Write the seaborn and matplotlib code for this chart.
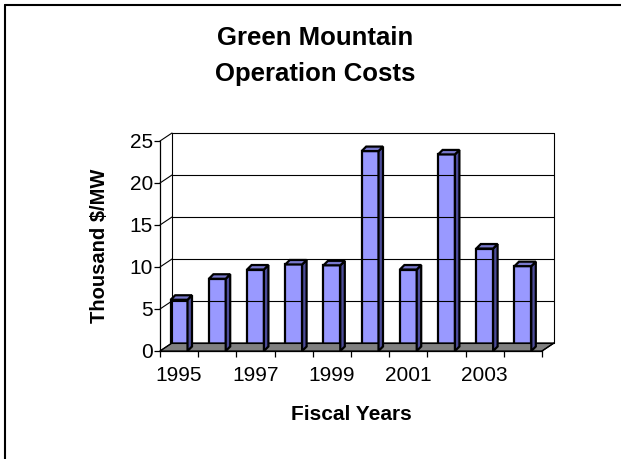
import matplotlib
matplotlib.use("Agg")
import matplotlib.pyplot as plt
import seaborn as sns
import pandas as pd
from matplotlib.transforms import IdentityTransform
from matplotlib.patches import Polygon
from matplotlib.lines import Line2D

# ---- data ----
years = ["1995", "1996", "1997", "1998", "1999", "2000", "2001", "2002", "2003", "2004"]
costs = [6.1, 8.6, 9.7, 10.3, 10.2, 23.8, 9.7, 23.4, 12.2, 10.1]
y_ticks = [0, 5, 10, 15, 20, 25]
x_labels_shown = ["1995", "1997", "1999", "2001", "2003"]

title = "Green Mountain\nOperation Costs"
xlabel = "Fiscal Years"
ylabel = "Thousand $/MW"

df = pd.DataFrame({"year": years, "cost": costs})

sns.set_style("white")
plt.rcParams["font.family"] = ["Liberation Sans", "DejaVu Sans"]
plt.rcParams["text.color"] = "black"
plt.rcParams["axes.labelcolor"] = "black"
plt.rcParams["xtick.color"] = "black"
plt.rcParams["ytick.color"] = "black"

DPI = 100
W_PX, H_PX = 621, 459
fig = plt.figure(figsize=(W_PX / DPI, H_PX / DPI), dpi=DPI)
fig.patch.set_facecolor("white")

# front plane of the 3D plot (pixels: x 160..542, y 141..351 from top)
L, R, T, B = 160, 542, 141, 351
ax = fig.add_axes([L / W_PX, 1 - B / H_PX, (R - L) / W_PX, (B - T) / H_PX])
ax.set_facecolor("none")

FRONT = "#9999FF"
SIDE = "#4C4C99"
TOP = "#7878CC"
LW = 1.6

sns.barplot(data=df, x="year", y="cost", color=FRONT, saturation=1,
            width=0.44, edgecolor="black", linewidth=LW, ax=ax, zorder=5)

ax.set_xlim(-0.5, len(years) - 0.5)
ax.set_ylim(0, 25)

# spines
for s in ["top", "right"]:
    ax.spines[s].set_visible(False)
ax.spines["left"].set_linewidth(0.9)
ax.spines["left"].set_color("black")
ax.spines["bottom"].set_linewidth(0.9)
ax.spines["bottom"].set_color("black")
ax.spines["bottom"].set_zorder(4)

# ticks
ax.set_yticks(y_ticks)
ax.set_yticklabels([str(v) for v in y_ticks], fontsize=15)
ax.tick_params(axis="y", direction="out", length=4, width=0.9, pad=1, left=True)

shown_pos = [years.index(y) for y in x_labels_shown]
ax.set_xticks(shown_pos)
ax.set_xticklabels(x_labels_shown, fontsize=15)
ax.tick_params(axis="x", which="major", length=0, pad=11)
ax.set_xticks([i - 0.5 for i in range(len(years) + 1)], minor=True)
ax.tick_params(axis="x", which="minor", direction="out", length=4, width=0.9, bottom=True)

ax.set_xlabel(xlabel, fontsize=15, fontweight="bold", labelpad=14)
ax.set_ylabel(ylabel, fontsize=14.5, fontweight="bold", labelpad=15)

fig.canvas.draw()

# ---- 3D decoration in display pixels ----
DX, DY = 12, 8       # back wall offset
BD = 4.5             # bar depth offset
ident = IdentityTransform()


def disp(x, y, back=False):
    px, py = ax.transData.transform((x, y))
    if back:
        px, py = px + DX, py + DY
    return px, py


x0, x1 = -0.5, len(years) - 0.5

# floor
floor = Polygon([disp(x0, 0), disp(x1, 0), disp(x1, 0, True), disp(x0, 0, True)],
                closed=True, facecolor="#808080", edgecolor="black", linewidth=0.9,
                transform=ident, zorder=1)
fig.add_artist(floor)

# back wall gridlines and edges
for v in y_ticks:
    a, b = disp(x0, v, True), disp(x1, v, True)
    fig.add_artist(Line2D([a[0], b[0]], [a[1], b[1]], color="black", lw=0.8,
                          transform=ident, zorder=2))
    # side wall diagonals
    c, d = disp(x0, v), disp(x0, v, True)
    fig.add_artist(Line2D([c[0], d[0]], [c[1], d[1]], color="black", lw=0.8,
                          transform=ident, zorder=2))
for xx in (x0, x1):
    a, b = disp(xx, 0, True), disp(xx, 25, True)
    fig.add_artist(Line2D([a[0], b[0]], [a[1], b[1]], color="black", lw=0.8,
                          transform=ident, zorder=2))
# floor right edge
a, b = disp(x1, 0), disp(x1, 0, True)
fig.add_artist(Line2D([a[0], b[0]], [a[1], b[1]], color="black", lw=0.9,
                      transform=ident, zorder=2))

# bar sides and tops from the bar patches
for p in ax.patches:
    if not hasattr(p, "get_width"):
        continue
    bx, bw, bh = p.get_x(), p.get_width(), p.get_height()
    tl = disp(bx, bh)
    tr = disp(bx + bw, bh)
    br = disp(bx + bw, 0)
    top = Polygon([tl, tr, (tr[0] + BD, tr[1] + BD), (tl[0] + BD, tl[1] + BD)],
                  closed=True, facecolor=TOP, edgecolor="black", linewidth=LW,
                  joinstyle="miter", transform=ident, zorder=6)
    side = Polygon([tr, br, (br[0] + BD, br[1] + BD), (tr[0] + BD, tr[1] + BD)],
                   closed=True, facecolor=SIDE, edgecolor="black", linewidth=LW,
                   joinstyle="miter", transform=ident, zorder=6)
    fig.add_artist(side)
    fig.add_artist(top)

# title
fig.text(315 / W_PX, 1 - 56 / H_PX, title, ha="center", va="center",
         fontsize=18.5, fontweight="bold", linespacing=1.62, color="black")

# outer frame (top and left edges visible in the crop)
fig.add_artist(Line2D([4.5, W_PX], [H_PX - 4.5, H_PX - 4.5], color="black", lw=1.5,
                      transform=ident, zorder=10))
fig.add_artist(Line2D([4.5, 4.5], [0, H_PX - 4.5], color="black", lw=1.5,
                      transform=ident, zorder=10))

fig.savefig("out.png", dpi=DPI)
